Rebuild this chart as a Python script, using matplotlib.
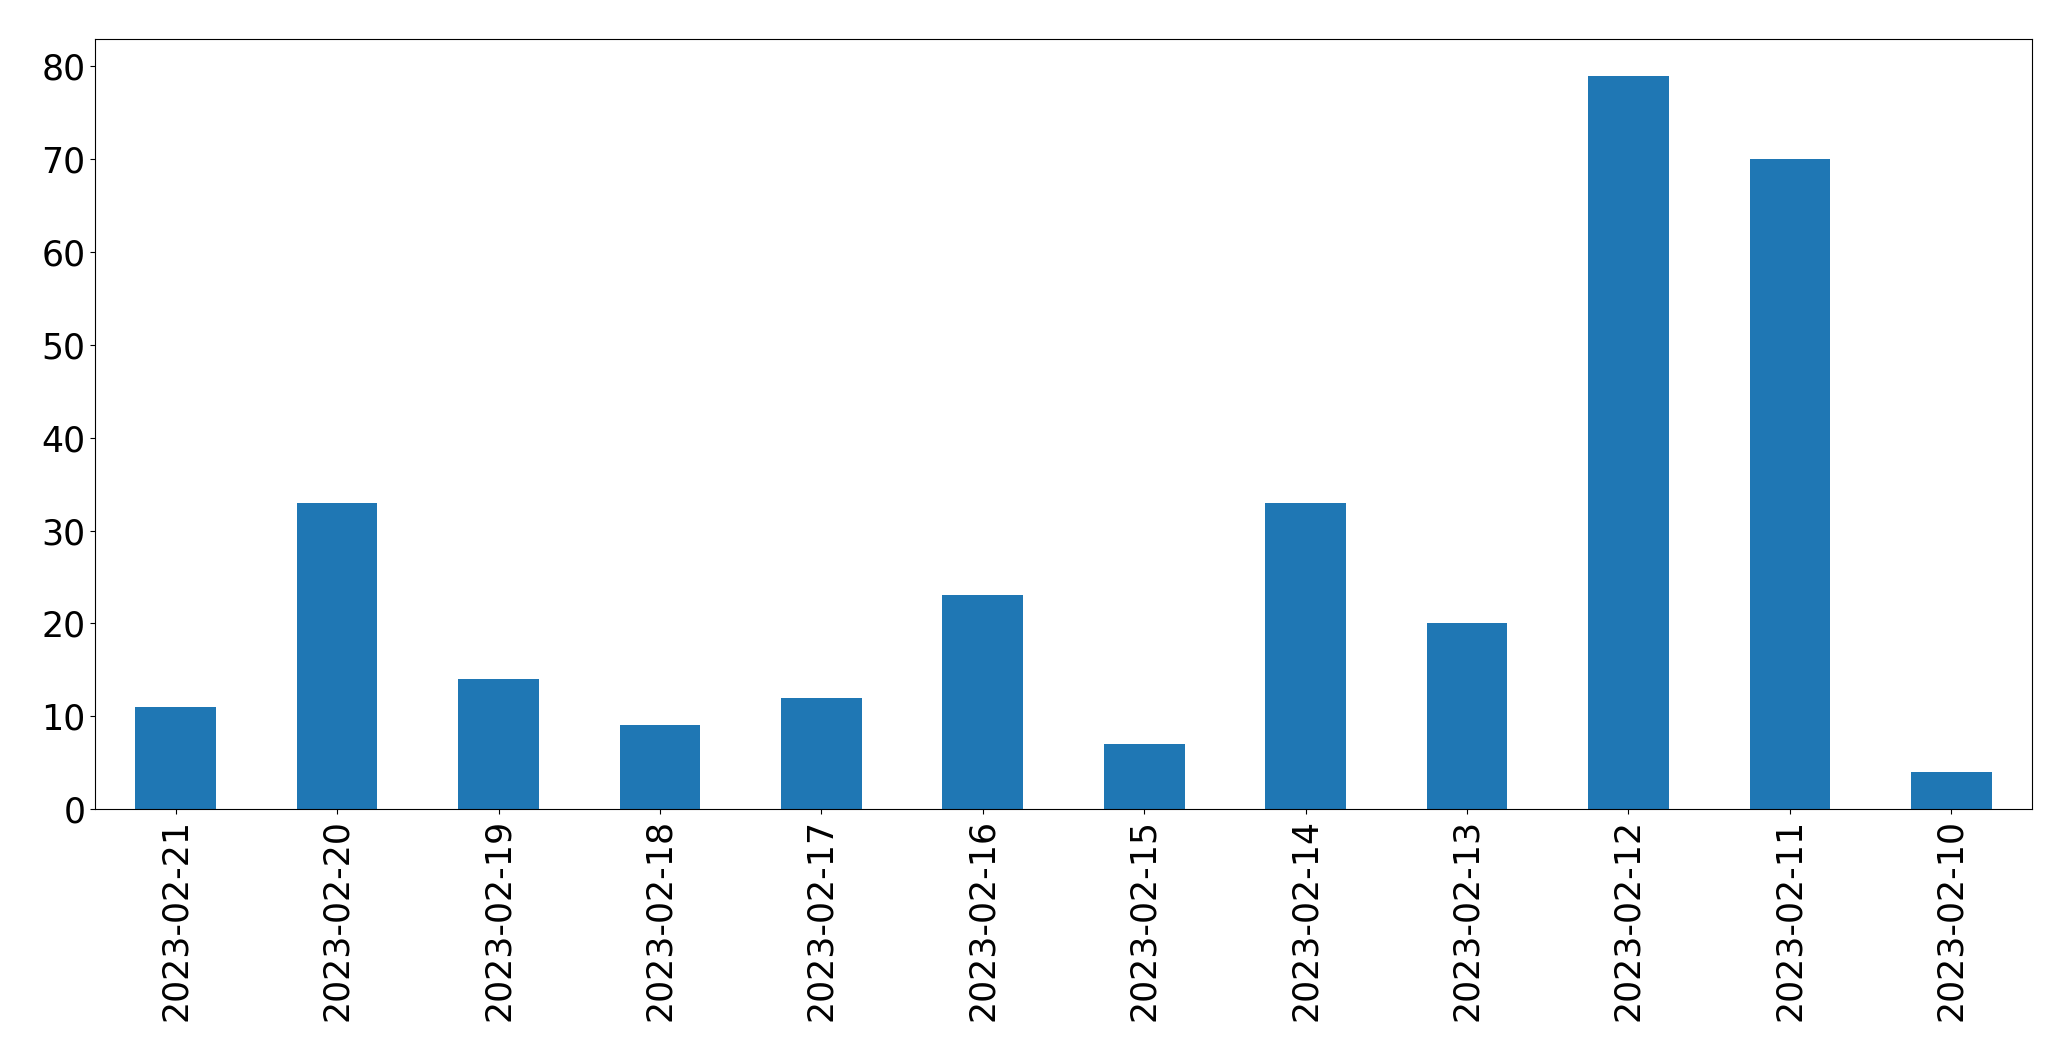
import matplotlib
matplotlib.use('Agg')
import matplotlib.pyplot as plt
import pandas as pd

dates = ['2023-02-21', '2023-02-20', '2023-02-19', '2023-02-18', '2023-02-17', '2023-02-16',
         '2023-02-15', '2023-02-14', '2023-02-13', '2023-02-12', '2023-02-11', '2023-02-10']
counts = [11, 33, 14, 9, 12, 23, 7, 33, 20, 79, 70, 4]

s = pd.Series(counts, index=dates)

fig, ax = plt.subplots(figsize=(20.71, 10.61), dpi=100)
s.plot(kind='bar', ax=ax, color='#1f77b4')
ax.tick_params(labelsize=25)
ax.set_ylim(0, 82.95)
plt.subplots_adjust(left=95/2071, right=2032/2071, top=1-39/1061, bottom=1-809/1061)
plt.savefig('out.png', dpi=100)
